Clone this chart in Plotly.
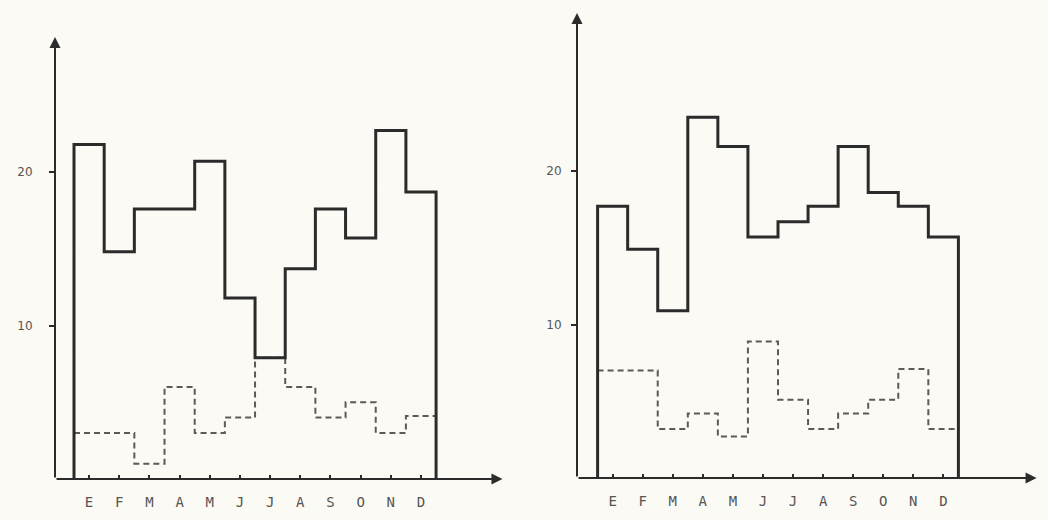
import plotly.graph_objects as go

months = ["E", "F", "M", "A", "M", "J", "J", "A", "S", "O", "N", "D"]

left_solid = [21.8, 14.8, 17.6, 17.6, 20.7, 11.8, 7.9, 13.7, 17.6, 15.7, 22.7, 18.7]
left_dashed = [3.0, 3.0, 1.0, 6.0, 3.0, 4.0, 7.9, 6.0, 4.0, 5.0, 3.0, 4.1]

right_solid = [17.7, 14.9, 10.9, 23.5, 21.6, 15.7, 16.7, 17.7, 21.6, 18.6, 17.7, 15.7]
right_dashed = [7.0, 7.0, 3.2, 4.2, 2.7, 8.9, 5.1, 3.2, 4.2, 5.1, 7.1, 3.2]

y_ticks = [10, 20]

W, H = 1048, 520
BG = "#fcfaf4"
INK = "#2b2b2b"


def step_xy(values, close=True):
    n = len(values)
    edges = [i + 0.5 for i in range(n + 1)]
    if close:
        xs = [edges[0]] + edges[:-1] + [edges[-1], edges[-1]]
        ys = [0] + list(values) + [values[-1], 0]
    else:
        xs = edges[:-1] + [edges[-1]]
        ys = list(values) + [values[-1]]
    return xs, ys


fig = go.Figure()

panels = [
    ("x", "y", left_solid, left_dashed),
    ("x2", "y2", right_solid, right_dashed),
]
for xa, ya, solid, dashed in panels:
    xs, ys = step_xy(dashed, close=False)
    fig.add_trace(go.Scatter(x=xs, y=ys, xaxis=xa, yaxis=ya, mode="lines",
                             line=dict(shape="hv", color="#5a5a5a", width=2, dash="6px,4px"),
                             showlegend=False, hoverinfo="skip"))
    xs, ys = step_xy(solid, close=True)
    fig.add_trace(go.Scatter(x=xs, y=ys, xaxis=xa, yaxis=ya, mode="lines",
                             line=dict(shape="hv", color=INK, width=3),
                             showlegend=False, hoverinfo="skip"))


def px_x(p):
    return p / W


def px_y(p):
    return 1 - p / H


left_xr = [-0.13, 14.95]
right_xr = [-0.185, 15.48]
left_yr = [0, 28.8]
right_yr = [0, 30.3]

common_x = dict(showgrid=False, zeroline=False, showline=False,
                tickmode="array", tickvals=list(range(1, 13)), ticktext=months,
                ticks="inside", ticklen=4, tickwidth=1.5, tickcolor=INK,
                tickfont=dict(family="DejaVu Sans Mono", size=14, color="#555"),
                ticklabelstandoff=13, fixedrange=True)
common_y = dict(showgrid=False, zeroline=False, showline=False,
                tickmode="array", tickvals=y_ticks, ticktext=[str(v) for v in y_ticks],
                ticks="outside", ticklen=5, tickwidth=2, tickcolor=INK,
                tickfont=dict(family="DejaVu Sans", size=12, color="#555"),
                fixedrange=True)

fig.update_layout(
    width=W, height=H,
    margin=dict(l=0, r=0, t=0, b=0),
    paper_bgcolor=BG, plot_bgcolor=BG,
    xaxis=dict(common_x, domain=[px_x(55), px_x(510)], range=left_xr, anchor="y"),
    yaxis=dict(common_y, domain=[px_y(479), px_y(37)], range=left_yr, anchor="x",
               ticklabelstandoff=14),
    xaxis2=dict(common_x, domain=[px_x(577), 1.0], range=right_xr, anchor="y2"),
    yaxis2=dict(common_y, domain=[px_y(478), px_y(13)], range=right_yr, anchor="x2",
                ticklabelstandoff=7),
)

arrows = [
    ("x", "y", left_xr[0], 0, left_xr[0], left_yr[1]),
    ("x", "y", left_xr[0], 0, 14.7, 0),
    ("x2", "y2", right_xr[0], 0, right_xr[0], right_yr[1]),
    ("x2", "y2", right_xr[0], 0, 15.1, 0),
]
for xr, yr, x0, y0, x1, y1 in arrows:
    fig.add_annotation(x=x1, y=y1, ax=x0, ay=y0, xref=xr, yref=yr, axref=xr, ayref=yr,
                       showarrow=True, arrowhead=2, arrowsize=1.1, arrowwidth=2,
                       arrowcolor=INK, text="")

fig.write_html("out.html")
